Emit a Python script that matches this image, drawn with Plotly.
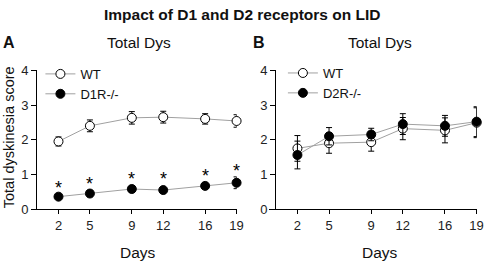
import plotly.graph_objects as go

days = [2, 5, 9, 12, 16, 19]

# panel A: WT vs D1R-/-
wt_a = [1.95, 2.40, 2.63, 2.65, 2.60, 2.54]
wt_a_err = [0.13, 0.17, 0.18, 0.17, 0.15, 0.18]
d1r = [0.36, 0.45, 0.58, 0.55, 0.67, 0.76]
d1r_err = [0.05, 0.05, 0.06, 0.05, 0.08, 0.17]
star_y = [0.73, 0.85, 0.97, 0.97, 1.06, 1.20]

# panel B: WT vs D2R-/-
wt_b = [1.75, 1.90, 1.93, 2.32, 2.27, 2.49]
wt_b_err = [0.37, 0.29, 0.26, 0.32, 0.36, 0.43]
d2r = [1.56, 2.10, 2.15, 2.45, 2.40, 2.52]
d2r_err = [0.40, 0.25, 0.18, 0.30, 0.30, 0.43]

FONT = "Liberation Sans, Arial, sans-serif"
W, H = 490, 271


def px_x(p):
    return p / W


def px_y(p):
    return 1 - p / H


def series(x, y, err, name, fill, xa, ya, legend):
    return go.Scatter(
        x=x, y=y, name=name, mode="lines+markers",
        xaxis=xa, yaxis=ya, legend=legend, cliponaxis=False,
        line=dict(color="#a0a0a0", width=1),
        marker=dict(symbol="circle", size=9, color=fill,
                    line=dict(color="black", width=1)),
        error_y=dict(type="data", array=err, visible=True,
                     color="black", thickness=1, width=3),
    )


fig = go.Figure()
fig.add_trace(series(days, wt_a, wt_a_err, "WT", "white", "x", "y", "legend"))
fig.add_trace(series(days, d1r, d1r_err, "D1R-/-", "black", "x", "y", "legend"))
fig.add_trace(series(days, wt_b, wt_b_err, "WT", "white", "x2", "y2", "legend2"))
fig.add_trace(series(days, d2r, d2r_err, "D2R-/-", "black", "x2", "y2", "legend2"))

xcommon = dict(tickvals=days, ticks="outside", ticklen=4, tickwidth=1,
               tickcolor="black", showline=True, linecolor="black",
               linewidth=1, showgrid=False, zeroline=False,
               tickfont=dict(family=FONT, size=13, color="#222"))
ycommon = dict(range=[0, 4], dtick=1, ticks="outside", ticklen=5,
               tickwidth=1, tickcolor="black", showline=True,
               linecolor="black", linewidth=1, showgrid=False,
               zeroline=False, anchor="free",
               domain=[px_y(214), px_y(67)],
               tickfont=dict(family=FONT, size=13, color="#222"))

annotations = []
for d, s in zip(days, star_y):
    annotations.append(dict(x=d, y=s, xref="x", yref="y", text="*",
                            showarrow=False, yshift=-4,
                            font=dict(family=FONT, size=18, color="black")))


def label(text, x, y, size, bold=False, angle=0):
    return dict(text="<b>%s</b>" % text if bold else text,
                x=px_x(x), y=px_y(y), xref="paper", yref="paper",
                showarrow=False, xanchor="center", yanchor="middle",
                textangle=angle,
                font=dict(family=FONT, size=size, color="#111"))


annotations += [
    label("Impact of D1 and D2 receptors on LID", 245, 8, 15.5, bold=True),
    label("A", 9.5, 38, 16, bold=True),
    label("Total Dys", 141, 38, 15.5),
    label("B", 263, 38, 16, bold=True),
    label("Total Dys", 385, 38, 15.5),
    label("Total dyskinesia score", 10, 138, 14.5, angle=-90),
    label("Days", 140, 260, 15.5),
    label("Days", 385, 260, 15.5),
]

legend_style = dict(bgcolor="rgba(0,0,0,0)", borderwidth=0, tracegroupgap=0,
                    xanchor="left", yanchor="top",
                    font=dict(family=FONT, size=13, color="#111"))

fig.update_layout(
    width=W, height=H,
    margin=dict(l=0, r=0, t=0, b=0),
    paper_bgcolor="white", plot_bgcolor="white",
    showlegend=True,
    xaxis=dict(xcommon, domain=[px_x(31.7), px_x(240)], range=[-0.6, 19],
               anchor="y"),
    yaxis=dict(ycommon, position=px_x(36.7)),
    xaxis2=dict(xcommon, domain=[px_x(273.3), px_x(483.5)],
                range=[-0.66, 19], anchor="y2"),
    yaxis2=dict(ycommon, position=px_x(279)),
    legend=dict(legend_style, x=px_x(41), y=px_y(55)),
    legend2=dict(legend_style, x=px_x(287), y=px_y(54)),
    annotations=annotations,
)

# the page's default body margin would push the figure off the window
fig.write_html(
    "out.html",
    config={"displayModeBar": False},
    post_script="document.body.style.margin='0';"
                "document.body.style.overflow='hidden';",
)
